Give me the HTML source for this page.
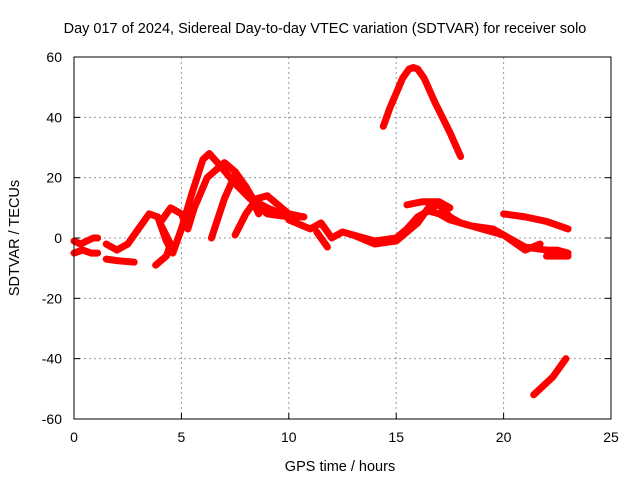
<!DOCTYPE html>
<html><head><meta charset="utf-8"><style>
body{margin:0;background:#fff;}
svg{display:block;font-family:"Liberation Sans",sans-serif;}
</style></head><body>
<svg id="chart" width="640" height="480">
<text x="325" y="33" text-anchor="middle" font-size="14.5">Day 017 of 2024, Sidereal Day-to-day VTEC variation (SDTVAR) for receiver solo</text>
<g id="grid"></g>
<g id="series"></g>
<rect x="74" y="57" width="537" height="362" fill="none" stroke="#000" stroke-width="1"/>
<g id="ticks"></g>
<text x="340" y="471" text-anchor="middle" font-size="14.5">GPS time / hours</text>
<text transform="translate(19,238) rotate(-90)" text-anchor="middle" font-size="14.5">SDTVAR / TECUs</text>
</svg>
<script>
const xTicks=[0,5,10,15,20,25];
const yTicks=[-60,-40,-20,0,20,40,60];
const seriesA=[[0,-1],[0.3,-2],[0.6,-1],[0.9,0],[1.1,0]];
const seriesB=[[0,-5],[0.4,-4],[0.8,-5],[1.1,-5]];
const seriesC=[[1.5,-7],[2,-7.5],[2.8,-8]];
const seriesD=[[1.5,-2],[2,-4],[2.5,-2],[3,3],[3.5,8],[3.9,7],[4.3,-1],[4.6,-5],[5,3],[5.5,15],[6,26],[6.3,28],[6.8,24],[7.5,18],[8.2,13],[9,10],[10,7]];
const seriesE=[[3.8,-9],[4.3,-6],[4.5,-2],[4,5],[4.5,10],[5,8],[5.3,3],[5.6,10],[6.2,20],[7,25],[7.5,22],[8,17],[8.5,11],[9,8],[10,7],[10.7,7]];
const seriesF=[[6.4,0],[7,13],[7.5,21],[8,17],[8.6,8]];
const seriesG=[[7.5,1],[8,8],[8.5,13],[9,14],[9.5,11],[10,8],[10.7,7]];
const seriesH=[[10,6],[11,3],[11.5,5],[12,0],[12.5,2],[13,1],[14,-1],[15,0],[15.5,3],[16,7],[16.5,9],[17,8],[17.5,6],[18.5,4],[19.5,3],[20,1],[20.5,-1],[21,-3],[22,-4],[22.5,-4],[23,-5]];
const seriesI=[[11.3,2],[11.8,-3]];
const seriesJ=[[13,1],[14,-2],[15,-1],[15.5,2],[16,5],[16.5,10],[17,11],[17.5,7],[18,5],[19,3],[20,1],[21,-4],[21.7,-2]];
const seriesK=[[15.5,11],[16.2,12],[17,12],[17.5,10]];
const seriesL=[[20,8],[21,7],[22,5.5],[23,3]];
const seriesM=[[14.4,37],[14.7,43],[15,48],[15.3,53],[15.6,56],[15.8,56.5],[16,56],[16.3,53],[16.8,45],[17.5,35],[18,27]];
const seriesN=[[21.4,-52],[22.3,-46],[22.9,-40]];
const seriesO=[[22,-6],[23,-6]];
const allSeries=[seriesA,seriesB,seriesC,seriesD,seriesE,seriesF,seriesG,seriesH,seriesI,seriesJ,seriesK,seriesL,seriesM,seriesN,seriesO];
const NS="http://www.w3.org/2000/svg";
function xs(h){return 74+h*(537/25);}
function ys(v){return 238-v*(362/120);}
const grid=document.getElementById('grid'),ticks=document.getElementById('ticks'),sg=document.getElementById('series');
xTicks.forEach(t=>{
  const x=xs(t);
  if(t>0&&t<25){const l=document.createElementNS(NS,'line');
  l.setAttribute('x1',x);l.setAttribute('x2',x);l.setAttribute('y1',57);l.setAttribute('y2',419);
  l.setAttribute('stroke','#999');l.setAttribute('stroke-dasharray','2,3');
  
  
  grid.appendChild(l);}
  const tm=document.createElementNS(NS,'line');
  tm.setAttribute('x1',x);tm.setAttribute('x2',x);tm.setAttribute('y1',419);tm.setAttribute('y2',413);tm.setAttribute('stroke','#000');
  
  
  ticks.appendChild(tm);
  const tx=document.createElementNS(NS,'text');
  tx.setAttribute('x',x);tx.setAttribute('y',442);tx.setAttribute('text-anchor','middle');tx.setAttribute('font-size','14');
  tx.textContent=t;
  
  
  ticks.appendChild(tx);
});
yTicks.forEach(t=>{
  const y=ys(t);
  if(t>-60&&t<60){const l=document.createElementNS(NS,'line');
  l.setAttribute('x1',74);l.setAttribute('x2',611);l.setAttribute('y1',y);l.setAttribute('y2',y);
  l.setAttribute('stroke','#999');l.setAttribute('stroke-dasharray','2,3');
  
  
  grid.appendChild(l);}
  [[74,80],[611,605]].forEach(p=>{const tm=document.createElementNS(NS,'line');
  tm.setAttribute('x1',p[0]);tm.setAttribute('x2',p[1]);tm.setAttribute('y1',y);tm.setAttribute('y2',y);tm.setAttribute('stroke','#000');
  
  
  ticks.appendChild(tm);});
  const tx=document.createElementNS(NS,'text');
  tx.setAttribute('x',62);tx.setAttribute('y',y+5);tx.setAttribute('text-anchor','end');tx.setAttribute('font-size','14');
  tx.textContent=t;
  
  
  ticks.appendChild(tx);
});
allSeries.forEach(s=>{
  const p=document.createElementNS(NS,'polyline');
  p.setAttribute('points',s.map(d=>xs(d[0])+','+ys(d[1])).join(' '));
  p.setAttribute('fill','none');p.setAttribute('stroke','#f00');p.setAttribute('stroke-width','7');
  p.setAttribute('stroke-linejoin','round');p.setAttribute('stroke-linecap','round');
  
  
  sg.appendChild(p);
});
</script>
</body></html>
